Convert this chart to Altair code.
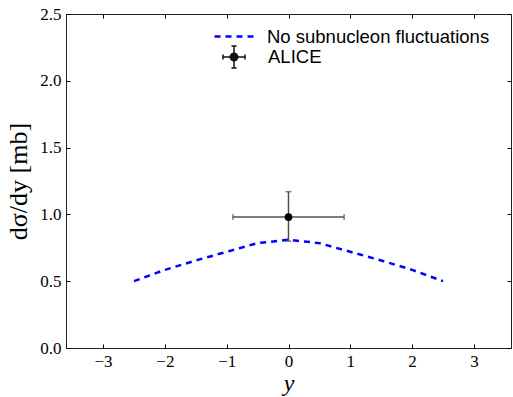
import altair as alt
import pandas as pd

# ---- data ----
rapidity = [-2.5, -2.0, -1.5, -1.0, -0.5, 0.0, 0.5, 1.0, 1.5, 2.0, 2.5]
dsigma = [0.50, 0.585, 0.655, 0.72, 0.785, 0.81, 0.785, 0.72, 0.655, 0.585, 0.50]
line_label = "No subnucleon fluctuations"

alice_y = [0.0]
alice_val = [0.98]
alice_lo = [0.80]
alice_hi = [1.17]
alice_xlo = [-0.9]
alice_xhi = [0.9]
alice_label = "ALICE"

x_ticks = [-3, -2, -1, 0, 1, 2, 3]
y_ticks = [0.0, 0.5, 1.0, 1.5, 2.0, 2.5]
x_domain = [-3.6, 3.6]
y_domain = [0.0, 2.5]

line_df = pd.DataFrame({"y": rapidity, "s": dsigma, "series": [line_label] * len(rapidity)})
alice_df = pd.DataFrame({"y": alice_y, "s": alice_val, "lo": alice_lo, "hi": alice_hi,
                         "xlo": alice_xlo, "xhi": alice_xhi, "series": [alice_label]})
vcaps_df = pd.DataFrame({"y": alice_xlo + alice_xhi, "s": alice_val + alice_val})
hcaps_df = pd.DataFrame({"y": alice_y + alice_y, "s": alice_lo + alice_hi})

SERIF = "Liberation Serif"
SANS = "Liberation Sans"
ERR = "#505050"

xs = alt.Scale(domain=x_domain, nice=False, zero=False)
ys = alt.Scale(domain=y_domain, nice=False, zero=False)

ax_bottom = alt.Axis(orient="bottom", values=x_ticks, format="d", offset=-4, tickSize=4,
                     domain=False, grid=False, labelPadding=5,
                     labelExpr="replace(datum.label, '-', '\u2212')",
                     labelFont=SERIF, labelFontSize=17, labelColor="black",
                     tickColor="black", title="y", titleFont=SERIF, titleFontStyle="italic",
                     titleFontWeight="normal", titleFontSize=24, titlePadding=2, titleColor="black")
ax_left = alt.Axis(orient="left", values=y_ticks, format=".1f", offset=-4, tickSize=4,
                   domain=False, grid=False, labelPadding=5,
                   labelFont=SERIF, labelFontSize=17, labelColor="black", tickColor="black",
                   title="d\u03c3/dy  [mb]", titleFont=SERIF, titleFontWeight="normal",
                   titleFontSize=26, titlePadding=8, titleColor="black")
ax_top = alt.Axis(orient="top", values=x_ticks, offset=-4, tickSize=4, domain=False,
                  grid=False, labels=False, title=None, tickColor="black")
ax_right = alt.Axis(orient="right", values=y_ticks, offset=-4, tickSize=4, domain=False,
                    grid=False, labels=False, title=None, tickColor="black")

line = alt.Chart(line_df).mark_line(color="blue", strokeWidth=2.5).encode(
    x=alt.X("y:Q", scale=xs, axis=ax_bottom),
    y=alt.Y("s:Q", scale=ys, axis=ax_left),
    strokeDash=alt.StrokeDash(
        "series:N",
        scale=alt.Scale(domain=[line_label], range=[[6, 5]]),
        legend=alt.Legend(title=None, orient="none", legendX=147, legendY=1,
                          symbolType="stroke", symbolSize=1600, symbolStrokeColor="blue",
                          symbolStrokeWidth=2.5, labelFont=SANS, labelFontSize=18.5,
                          labelColor="black", labelOffset=11, labelLimit=400),
    ),
)

vrule = alt.Chart(alice_df).mark_rule(color=ERR, strokeWidth=1.5).encode(
    x=alt.X("y:Q", scale=xs, axis=ax_top),
    y=alt.Y("lo:Q", scale=ys, axis=ax_right),
    y2="hi:Q",
)
hrule = alt.Chart(alice_df).mark_rule(color=ERR, strokeWidth=1.5).encode(
    x=alt.X("xlo:Q", scale=xs, axis=None),
    x2="xhi:Q",
    y=alt.Y("s:Q", scale=ys, axis=None),
)
vcaps = alt.Chart(vcaps_df).mark_tick(color=ERR, orient="vertical", size=6, thickness=1.5).encode(
    x=alt.X("y:Q", scale=xs, axis=None),
    y=alt.Y("s:Q", scale=ys, axis=None),
)
hcaps = alt.Chart(hcaps_df).mark_tick(color=ERR, orient="horizontal", size=6, thickness=1.5).encode(
    x=alt.X("y:Q", scale=xs, axis=None),
    y=alt.Y("s:Q", scale=ys, axis=None),
)
point = alt.Chart(alice_df).mark_circle(color="black", size=60, opacity=1).encode(
    x=alt.X("y:Q", scale=xs, axis=None),
    y=alt.Y("s:Q", scale=ys, axis=None),
)

# legend glyph: error cross with caps, plus concentric rings forming a solid dot
legend_path = ("M-1,0L1,0M0,-1L0,1M-1,-0.23L-1,0.23M1,-0.23L1,0.23"
               "M-0.23,-1L0.23,-1M-0.23,1L0.23,1"
               "M0.34,0A0.34,0.34,0,1,1,-0.34,0A0.34,0.34,0,1,1,0.34,0Z"
               "M0.22,0A0.22,0.22,0,1,1,-0.22,0A0.22,0.22,0,1,1,0.22,0Z"
               "M0.1,0A0.1,0.1,0,1,1,-0.1,0A0.1,0.1,0,1,1,0.1,0Z")
legend_pt = alt.Chart(alice_df).mark_point(filled=False, color="#111111",
                                           opacity=0, size=484, strokeWidth=1.5).encode(
    x=alt.X("y:Q", scale=xs, axis=None),
    y=alt.Y("s:Q", scale=ys, axis=None),
    shape=alt.Shape(
        "series:N",
        scale=alt.Scale(domain=[alice_label], range=[legend_path]),
        legend=alt.Legend(title=None, orient="none", legendX=156, legendY=31,
                          symbolSize=484, symbolOpacity=1,
                          symbolStrokeColor="#111111", symbolStrokeWidth=1.5,
                          labelFont=SANS, labelFontSize=18.5, labelColor="black",
                          labelOffset=22, labelLimit=400),
    ),
)

chart = alt.layer(line, vrule, hrule, vcaps, hcaps, point, legend_pt).resolve_axis(
    x="independent", y="independent"
).properties(
    width=445, height=334,
    padding={"left": 66, "top": 14, "right": 2, "bottom": 49},
    autosize=alt.AutoSizeParams(type="none"),
    background="white",
).configure_view(stroke="#222222", strokeWidth=1
).configure_axis(labelFont=SERIF, titleFont=SERIF)

chart.save("out.html", embed_options={"renderer": "svg", "actions": False})
